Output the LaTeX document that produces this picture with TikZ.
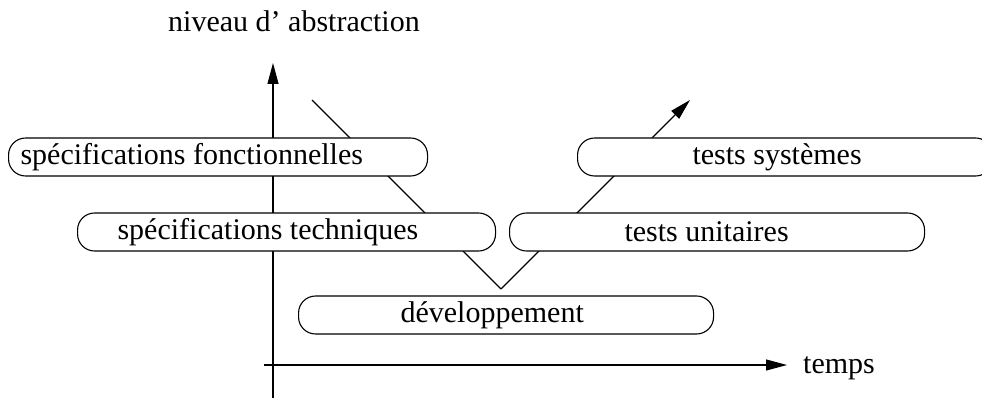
\documentclass[tikz,border=0pt]{standalone}
\usepackage{fontspec}
\setmainfont{Liberation Serif}
\usetikzlibrary{arrows.meta}
\tikzset{
  axisline/.style={line width=1.1pt, -{Triangle[length=21pt, width=11pt]}},
  vline/.style={line width=1.1pt},
  pill/.style={draw, fill=white, line width=1.1pt, rounded corners=17pt,
    minimum height=38pt, inner sep=0pt, anchor=west},
  lbl/.style={inner sep=0pt}
}
% text placed at a given left offset inside a pill of given width
\newcommand{\pilltext}[3]{\makebox[#1pt][l]{\hspace{#2pt}\raisebox{-2pt}{#3}}}
\begin{document}
\begin{tikzpicture}[x=1pt, y=-1pt, font=\fontsize{30}{36}\selectfont]
\useasboundingbox (0,0) rectangle (982,398);

% axes
\coordinate (yfoot) at (273,398);
\coordinate (ytip) at (273,63);
\coordinate (xfoot) at (264,365);
\coordinate (xtip) at (787,365);
\draw[axisline] (yfoot) -- (ytip);
\draw[axisline] (xfoot) -- (xtip);
\node[lbl, anchor=base] (ylabel) at (294,32) {niveau d' abstraction};
\node[lbl, anchor=base west] (xlabel) at (803,373) {temps};

% the V cycle path
\coordinate (vstart) at (312,100);
\coordinate (vbottom) at (501,289);
\coordinate (vend) at (690,100);
\draw[vline] (vstart) -- (vbottom);
\draw[axisline] (vbottom) -- (vend);

% phases
\node[pill, minimum width=419pt] (sf) at (8,157)
  {\pilltext{419}{12}{spécifications fonctionnelles}};
\node[pill, minimum width=418pt] (st) at (77,232)
  {\pilltext{418}{40}{spécifications techniques}};
\node[pill, minimum width=415pt] (dev) at (298,315)
  {\pilltext{415}{102}{développement}};
\node[pill, minimum width=415pt] (tu) at (509,232)
  {\pilltext{415}{115}{tests unitaires}};
\node[pill, minimum width=415pt] (ts) at (577,157)
  {\pilltext{415}{115}{tests systèmes}};
\end{tikzpicture}
\end{document}
